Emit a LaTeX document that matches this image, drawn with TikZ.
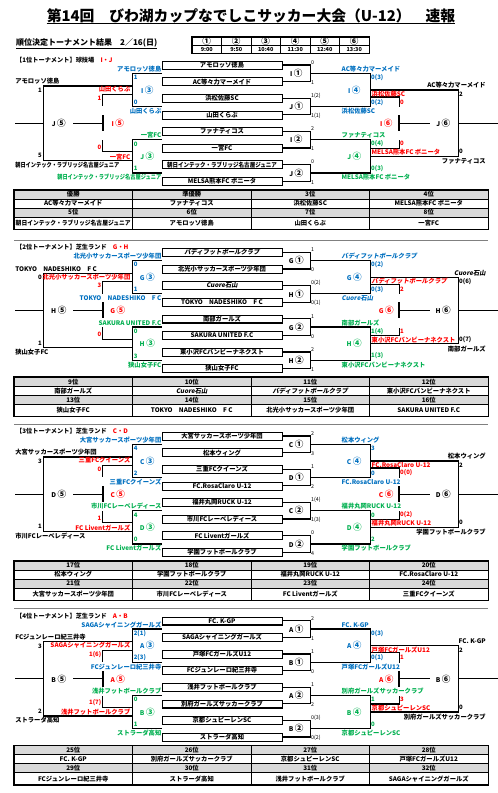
\documentclass[tikz,border=0pt]{standalone}
\usepackage{fontspec}
\setmainfont{Noto Sans CJK JP}
\newfontfamily\slantfont{Noto Sans CJK JP}[FakeSlant=0.18]
\usepackage{graphicx}
\usetikzlibrary{calc,positioning}
\definecolor{rblue}{RGB}{0,112,192}
\definecolor{rgreen}{RGB}{0,176,80}
\definecolor{rred}{RGB}{255,0,0}
\definecolor{hdgray}{RGB}{217,217,217}

\newsavebox\fitbox
\newcommand\fitto[2]{\sbox\fitbox{#2}\ifdim\wd\fitbox>#1\relax\resizebox{#1}{\ht\fitbox}{\usebox\fitbox}\else\usebox\fitbox\fi}
\newcommand\slt[1]{{\slantfont\bfseries #1}}
\newcommand\cn[1]{{\fontsize{8.6}{8}\selectfont#1}}

% team boxes of one tournament
\newcommand\teams[2]{%
  \foreach \n/\t in {#2} {
    \node[team] (#1-t\n) at (222,{65+16.6*(\n-1)}) {\t};
    \draw[line width=0.9pt] (#1-t\n.south west) -- (#1-t\n.south east);
  }
}
% bracket lines and match labels
\newcommand\bracketset[3]{%
  \foreach \a/\b/\m in {1/2/ua,3/4/ub,5/6/la,7/8/lb}
    \draw[bline] (#1-t\a.east) -- ++(28,0) |- coordinate[pos=.25] (#1-\m) (#1-t\b.east);
  % second round
  \draw[bline] (#1-ua) -- ++(60,0) |- coordinate[pos=.25] (#1-ru) (#1-ub);
  \draw[bline] (#1-la) -- ++(60,0) |- coordinate[pos=.25] (#1-rl) (#1-lb);
  \draw[bline] (#1-ua -| #1-t1.west) -- ++(-29,0) |- coordinate[pos=.25] (#1-lu) (#1-ub -| #1-t1.west);
  \draw[bline] (#1-la -| #1-t1.west) -- ++(-29,0) |- coordinate[pos=.25] (#1-ll) (#1-lb -| #1-t1.west);
  % final rounds, right
  \draw[bline] (#1-ru) -- ++(88,0) |- coordinate[pos=.25] (#1-rc) (#1-rl);
  \draw[bline] ($(#1-ru)+(0,7)$) -- ++(29,0) -- ++(0,10);
  \draw[bline] ($(#1-rl)+(0,-8)$) -- ++(29,0) -- ++(0,-8);
  \coordinate (#1-rt) at ($(#1-rc)+(-59,0)$);
  \draw[tick] ($(#1-rt)+(0,-8)$) -- ($(#1-rt)+(0,8)$);
  \draw[bline] (#1-rt) -- ++(31,0);
  \draw[bline] (#1-rc) -- ++(40,0);
  % final rounds, left
  \draw[bline] ($(#1-lu)+(0,-4)$) -- ++(-89,0) |- coordinate[pos=.25] (#1-lc) ($(#1-ll)+(0,4)$);
  \draw[bline] ($(#1-lu)+(0,4.5)$) -- ++(-30,0) -- ++(0,12);
  \draw[bline] ($(#1-ll)+(0,-4.5)$) -- ++(-30,0) -- ++(0,-12);
  \coordinate (#1-lt) at ($(#1-lc)+(59,0)$);
  \draw[tick] ($(#1-lt)+(0,-8)$) -- ($(#1-lt)+(0,8)$);
  \draw[bline] (#1-lt) -- ++(-30,0);
  \draw[bline] (#1-lc) -- ++(-29,0);
  % match labels
  \node[mlbl] (#1-g1) at ($(#1-ua)+(-14,0)$) {#2 \cn{①}};
  \node[mlbl] (#1-g2) at ($(#1-ub)+(-14,0)$) {#3 \cn{①}};
  \node[mlbl] (#1-g3) at ($(#1-la)+(-14,0)$) {#2 \cn{②}};
  \node[mlbl] (#1-g4) at ($(#1-lb)+(-14,0)$) {#3 \cn{②}};
  \node[mlbl, rblue] (#1-g5) at ($(#1-lu)+(14.5,0)$) {#2 \cn{③}};
  \node[mlbl, rgreen] (#1-g6) at ($(#1-ll)+(14.5,0)$) {#3 \cn{③}};
  \node[mlbl, rblue] (#1-g7) at ($(#1-ru)+(-16,0)$) {#2 \cn{④}};
  \node[mlbl, rgreen] (#1-g8) at ($(#1-rl)+(-16,0)$) {#3 \cn{④}};
  \node[mlbl, rred] (#1-g9) at ($(#1-lt)+(15,0)$) {#2 \cn{⑤}};
  \node[mlbl] (#1-g10) at ($(#1-lc)+(15,0)$) {#3 \cn{⑤}};
  \node[mlbl, rred] (#1-g11) at ($(#1-rt)+(-13,0)$) {#2 \cn{⑥}};
  \node[mlbl] (#1-g12) at ($(#1-rc)+(-15,0)$) {#3 \cn{⑥}};
}
% first round scores
\newcommand\firstscores[9]{%
  \foreach \n/\s/\d in {1/#2/-2.5,2/#3/1,3/#4/-2.5,4/#5/1,5/#6/-2.5,6/#7/1,7/#8/-2.5,8/#9/1}
    \node[rscr] (#1-sc\n) at ($(#1-t\n.east)+(28.5,\d)$) {\s};
}
% winners side, second round
\newcommand\wintexts[7]{%
  \node[lbl,#3,anchor=west] (#1-#2w1) at ($(#1-#2a)+(31,-4.2)$) {#4};
  \node[scr,#3] (#1-#2w2) at ($(#1-#2a)+(60.5,4.2)$) {#5};
  \node[scr,#3] (#1-#2w3) at ($(#1-#2b)+(60.5,-4.2)$) {#6};
  \node[lbl,#3,anchor=west] (#1-#2w4) at ($(#1-#2b)+(31,4.5)$) {#7};
}
% losers side, second round
\newcommand\losetexts[7]{%
  \node[lbl,#3,anchor=east] (#1-#2l1) at ($(#1-#2a -| #1-t1.west)+(0,-4.2)$) {#4};
  \node[scr,#3] (#1-#2l2) at ($(#1-#2a -| #1-t1.west)+(-28.5,4.2)$) {#5};
  \node[scr,#3] (#1-#2l3) at ($(#1-#2b -| #1-t1.west)+(-28.5,-4.2)$) {#6};
  \node[lbl,#3,anchor=east] (#1-#2l4) at ($(#1-#2b -| #1-t1.west)+(0,4.5)$) {#7};
}
% right side: third place (red) and final (black)
\newcommand\righttexts[9]{%
  \node[lbl,rred,anchor=west] (#1-rr1) at ($(#1-ru)+(1,4)$) {#2};
  \node[scr,rred] (#1-rr2) at ($(#1-ru)+(29.5,12)$) {#3};
  \node[scr,rred] (#1-rr3) at ($(#1-rl)+(29.5,-12.5)$) {#4};
  \node[lbl,rred,anchor=west] (#1-rr4) at ($(#1-rl)+(1,-4)$) {#5};
  \node[lbl,anchor=east] (#1-rb1) at ($(#1-ru)+(116,-4.5)$) {#6};
  \node[scr] (#1-rb2) at ($(#1-ru)+(88.5,4.5)$) {#7};
  \node[scr] (#1-rb3) at ($(#1-rl)+(88.5,-4.5)$) {#8};
  \node[lbl,anchor=east] (#1-rb4) at ($(#1-rl)+(116,5)$) {#9};
}
% left side: red and black placing matches
\newcommand\lefttexts[9]{%
  \node[lbl,rred,anchor=east] (#1-lr1) at ($(#1-lu)+(-2,-0.5)$) {#2};
  \node[scr,rred,anchor=east] (#1-lr2) at ($(#1-lu)+(-31,8.5)$) {#3};
  \node[scr,rred,anchor=east] (#1-lr3) at ($(#1-ll)+(-31,-9)$) {#4};
  \node[lbl,rred,anchor=east] (#1-lr4) at ($(#1-ll)+(-2,0.5)$) {#5};
  \node[lbl,anchor=west] (#1-lb1) at ($(#1-lu)+(-118,-8.5)$) {#6};
  \node[scr,anchor=east] (#1-lb2) at ($(#1-lu)+(-90.5,0.5)$) {#7};
  \node[scr,anchor=east] (#1-lb3) at ($(#1-ll)+(-90.5,-0.5)$) {#8};
  \node[lbl,anchor=west] (#1-lb4) at ($(#1-ll)+(-118,8.5)$) {#9};
}
% ranking table
\newcommand\ranktable[5]{%
  \foreach \c/\t in {#2} \node[head] (#1-a\c) at ({73.25+118.5*\c},194.5) {\t};
  \foreach \c/\t in {#3} \node[cell] (#1-b\c) at ({73.25+118.5*\c},203.5) {\t};
  \foreach \c/\t in {#4} \node[head] (#1-c\c) at ({73.25+118.5*\c},212.5) {\t};
  \foreach \c/\t in {#5} \node[cell, minimum height=12pt] (#1-d\c) at ({73.25+118.5*\c},223) {\t};
  \draw[line width=1.2pt] (#1-a0.north west) rectangle (#1-d3.south east);
}

\begin{document}
\begin{tikzpicture}[x=1pt, y=-1pt,
  team/.style={draw, line width=0.4pt, minimum width=120pt, minimum height=8pt, inner sep=0pt, font=\bfseries\fontsize{6.3}{7}\selectfont},
  lbl/.style={inner sep=0.3pt, font=\bfseries\fontsize{6.3}{7}\selectfont},
  scr/.style={inner sep=0.3pt, anchor=west, font=\bfseries\fontsize{6}{7}\selectfont},
  rscr/.style={inner sep=0.3pt, anchor=west, font=\fontsize{5.3}{6}\selectfont},
  mlbl/.style={inner sep=0.3pt, font=\bfseries\fontsize{6.5}{7}\selectfont},
  bline/.style={line width=1.2pt},
  tick/.style={line width=2pt},
  cell/.style={draw, line width=0.8pt, minimum width=118.5pt, minimum height=9pt, inner sep=0pt, font=\bfseries\fontsize{6.3}{7}\selectfont},
  head/.style={cell, fill=hdgray},
  scell/.style={draw, line width=0.7pt, minimum width=29.5pt, minimum height=8pt, inner sep=0pt, font=\bfseries\fontsize{5.5}{6}\selectfont},
  secthead/.style={anchor=west, inner sep=0pt, font=\bfseries\fontsize{6.2}{7}\selectfont},
  sepline/.style={gray, line width=0.8pt},
]
\fill[white] (0,0) rectangle (498,793);
\useasboundingbox (0,0) rectangle (498,793);

% Header
\node[inner sep=0pt, font=\bfseries\fontsize{14.8}{16}\selectfont] (title) at (251,15.5) {第14回　びわ湖カップなでしこサッカー大会（U-12）　速報};
\draw[line width=0.8pt] ($(title.south west)+(0,0.5)$) -- ($(title.south east)+(0,0.5)$);
\node[anchor=west, inner sep=0pt, font=\bfseries\fontsize{8}{9}\selectfont] (subt) at (16,43) {順位決定トーナメント結果　2／16(日)};
\draw[line width=0.6pt] ($(subt.south west)+(0,0.5)$) -- ($(subt.south east)+(0,0.5)$);

% Time table
\foreach \c/\num/\tm in {0/①/9:00,1/②/9:50,2/③/10:40,3/④/11:30,4/⑤/12:40,5/⑥/13:30} {
  \node[scell] (tt\c) at ({206.75+29.5*\c},41) {\cn{\num}};
  \node[scell] (tm\c) at ({206.75+29.5*\c},49) {\tm};
}
\draw[line width=1.1pt] (tt0.north west) rectangle (tm5.south east);

% 1st tournament
\node[secthead] (s1h) at (16,60) {【1位トーナメント】球技場　\textcolor{rred}{I・J}};
\teams{s1}{1/アモロッソ徳島,2/AC等々力マーメイド,3/浜松佐藤SC,4/山田くらぶ,5/ファナティコス,6/一宮FC,7/\fitto{110pt}{朝日インテック・ラブリッジ名古屋ジュニア},8/MELSA熊本FC ボニータ}
\bracketset{s1}{I}{J}
\firstscores{s1}{0}{1}{1(2)}{1(1)}{2}{1}{0}{1}
\wintexts{s1}{u}{rblue}{AC等々力マーメイド}{0(3)}{0(2)}{浜松佐藤SC}
\wintexts{s1}{l}{rgreen}{ファナティコス}{0(4)}{0(3)}{MELSA熊本FC ボニータ}
\losetexts{s1}{u}{rblue}{アモロッソ徳島}{1}{0}{山田くらぶ}
\losetexts{s1}{l}{rgreen}{一宮FC}{0}{1}{\fitto{104pt}{朝日インテック・ラブリッジ名古屋ジュニア}}
\righttexts{s1}{浜松佐藤SC}{0}{0}{MELSA熊本FC ボニータ}{AC等々力マーメイド}{2}{0}{ファナティコス}
\lefttexts{s1}{山田くらぶ}{1}{0}{一宮FC\hspace{31pt}}{アモロッソ徳島}{1}{5}{\fitto{104pt}{朝日インテック・ラブリッジ名古屋ジュニア}}
\ranktable{s1}{0/優勝,1/準優勝,2/3位,3/4位}{0/AC等々力マーメイド,1/ファナティコス,2/浜松佐藤SC,3/MELSA熊本FC ボニータ}{0/5位,1/6位,2/7位,3/8位}{0/\fitto{115pt}{朝日インテック・ラブリッジ名古屋ジュニア},1/アモロッソ徳島,2/山田くらぶ,3/一宮FC}

% 2nd tournament
\begin{scope}[shift={(0,187.3)}]
\draw[sepline] (14,53) -- (488,53);
\node[secthead] (s2h) at (16,60) {【2位トーナメント】芝生ランド　\textcolor{rred}{G・H}};
\teams{s2}{1/\slt{バディフットボールクラブ},2/北光小サッカースポーツ少年団,3/\slt{Cuore石山},4/TOKYO　NADESHIKO　F C,5/南部ガールズ,6/SAKURA UNITED F.C,7/東小沢FCバンビーナネクスト,8/狭山女子FC}
\bracketset{s2}{G}{H}
\firstscores{s2}{1}{0}{0(2)}{0(1)}{1}{0}{2}{1}
\wintexts{s2}{u}{rblue}{\slt{バディフットボールクラブ}}{0(2)}{0(3)}{\slt{Cuore石山}}
\wintexts{s2}{l}{rgreen}{南部ガールズ}{1(4)}{1(3)}{東小沢FCバンビーナネクスト}
\losetexts{s2}{u}{rblue}{北光小サッカースポーツ少年団}{0}{1}{TOKYO　NADESHIKO　F C}
\losetexts{s2}{l}{rgreen}{SAKURA UNITED F.C}{0}{3}{狭山女子FC}
\righttexts{s2}{\slt{バディフットボールクラブ}}{2}{1}{東小沢FCバンビーナネクスト}{\slt{Cuore石山}}{0(6)}{0(7)}{南部ガールズ}
\lefttexts{s2}{北光小サッカースポーツ少年団}{3}{0}{}{TOKYO　NADESHIKO　F C}{0}{1}{狭山女子FC}
\ranktable{s2}{0/9位,1/10位,2/11位,3/12位}{0/南部ガールズ,1/\slt{Cuore石山},2/\slt{バディフットボールクラブ},3/東小沢FCバンビーナネクスト}{0/13位,1/14位,2/15位,3/16位}{0/狭山女子FC,1/TOKYO　NADESHIKO　F C,2/北光小サッカースポーツ少年団,3/SAKURA UNITED F.C}
\end{scope}

% 3rd tournament
\begin{scope}[shift={(0,371)}]
\draw[sepline] (14,53) -- (488,53);
\node[secthead] (s3h) at (16,60) {【3位トーナメント】芝生ランド　\textcolor{rred}{C・D}};
\teams{s3}{1/大宮サッカースポーツ少年団,2/松本ウィング,3/三重FCクイーンズ,4/FC.RosaClaro U-12,5/福井丸岡RUCK U-12,6/市川FCレーベレディース,7/FC Liventガールズ,8/学園フットボールクラブ}
\bracketset{s3}{C}{D}
\firstscores{s3}{2}{3}{1}{2}{1(4)}{1(3)}{0}{4}
\wintexts{s3}{u}{rblue}{松本ウィング}{3}{0}{FC.RosaClaro U-12}
\wintexts{s3}{l}{rgreen}{福井丸岡RUCK U-12}{0}{2}{学園フットボールクラブ}
\losetexts{s3}{u}{rblue}{大宮サッカースポーツ少年団}{4}{2}{三重FCクイーンズ}
\losetexts{s3}{l}{rgreen}{市川FCレーベレディース}{4}{0}{FC Liventガールズ}
\righttexts{s3}{FC.RosaClaro U-12}{0(0)}{0(2)}{福井丸岡RUCK U-12}{松本ウィング}{2}{0}{学園フットボールクラブ}
\lefttexts{s3}{三重FCクイーンズ}{0}{1}{FC Liventガールズ}{大宮サッカースポーツ少年団}{3}{1}{市川FCレーベレディース}
\ranktable{s3}{0/17位,1/18位,2/19位,3/20位}{0/松本ウィング,1/学園フットボールクラブ,2/福井丸岡RUCK U-12,3/FC.RosaClaro U-12}{0/21位,1/22位,2/23位,3/24位}{0/大宮サッカースポーツ少年団,1/市川FCレーベレディース,2/FC Liventガールズ,3/三重FCクイーンズ}
\end{scope}

% 4th tournament
\begin{scope}[shift={(0,555.7)}]
\draw[sepline] (14,53) -- (488,53);
\node[secthead] (s4h) at (16,60) {【4位トーナメント】芝生ランド　\textcolor{rred}{A・B}};
\teams{s4}{1/FC. K-GP,2/SAGAシャイニングガールズ,3/戸塚FCガールズU12,4/FCジュンレーロ紀三井寺,5/浅井フットボールクラブ,6/別府ガールズサッカークラブ,7/京都シュピーレンSC,8/ストラーダ高知}
\bracketset{s4}{A}{B}
\firstscores{s4}{2}{1}{1}{0}{1}{2}{0(3)}{0(2)}
\wintexts{s4}{u}{rblue}{FC. K-GP}{0(3)}{0(1)}{戸塚FCガールズU12}
\wintexts{s4}{l}{rgreen}{別府ガールズサッカークラブ}{1}{0}{京都シュピーレンSC}
\losetexts{s4}{u}{rblue}{SAGAシャイニングガールズ}{2(1)}{2(3)}{FCジュンレーロ紀三井寺}
\losetexts{s4}{l}{rgreen}{浅井フットボールクラブ}{0}{1}{ストラーダ高知}
\righttexts{s4}{戸塚FCガールズU12}{1}{3}{京都シュピーレンSC}{FC. K-GP}{2}{0}{別府ガールズサッカークラブ}
\lefttexts{s4}{SAGAシャイニングガールズ}{1(6)}{1(7)}{浅井フットボールクラブ}{FCジュンレーロ紀三井寺}{3}{2}{ストラーダ高知}
\ranktable{s4}{0/25位,1/26位,2/27位,3/28位}{0/FC. K-GP,1/別府ガールズサッカークラブ,2/京都シュピーレンSC,3/戸塚FCガールズU12}{0/29位,1/30位,2/31位,3/32位}{0/FCジュンレーロ紀三井寺,1/ストラーダ高知,2/浅井フットボールクラブ,3/SAGAシャイニングガールズ}
\end{scope}
\end{tikzpicture}
\end{document}
